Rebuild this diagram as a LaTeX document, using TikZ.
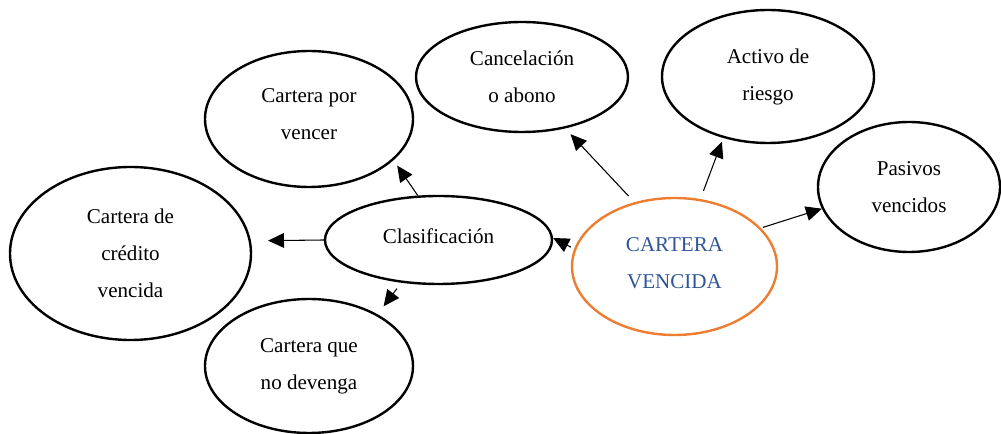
\documentclass[tikz,border=0pt]{standalone}
\usepackage{fontspec}
\setmainfont{Liberation Serif}
\usetikzlibrary{arrows.meta,shapes.geometric}
\definecolor{naranja}{HTML}{ED7D31}
\definecolor{azul}{HTML}{2F5597}

\begin{document}
\begin{tikzpicture}[x=0.75pt,y=-0.75pt,->,>={Triangle[length=12pt,width=11pt]},
  line width=0.8pt,
  elipse/.style={ellipse,draw,line width=1.8pt,inner sep=0pt,align=center,
    font=\fontsize{15.8}{27.75}\selectfont}] %,font=\sffamily]
\useasboundingbox (0,0) rectangle (1001,434);
\node[elipse,minimum width=156pt,minimum height=102pt] (porvencer) at (309,119)
  {Cartera por\\vencer\\[-20pt]};
\node[elipse,minimum width=159pt,minimum height=82.5pt] (cancel) at (522,77)
  {Cancelación\\o abono};
\node[elipse,minimum width=159pt,minimum height=99.75pt] (activo) at (768,76.5)
  {Activo de\\riesgo};
\node[elipse,minimum width=136.5pt,minimum height=97.5pt] (pasivos) at (909,187)
  {Pasivos\\vencidos};
\node[elipse,minimum width=180.75pt,minimum height=129.75pt] (credito) at (130.5,253.5)
  {Cartera de\\crédito\\vencida};
\node[elipse,minimum width=170.25pt,minimum height=66pt] (clasif) at (438.5,240)
  {Clasificación\\[-22pt]};
\node[elipse,draw=naranja,text=azul,minimum width=153.75pt,minimum height=102.75pt]
  (vencida) at (674.5,266.5) {CARTERA\\VENCIDA\\[-23pt]};
\node[elipse,minimum width=156pt,minimum height=100.5pt] (nodevenga) at (309,366)
  {Cartera que\\no devenga};
% desde cartera vencida
\draw[shorten <=6.3pt,shorten >=5.9pt] (vencida.122) -- (cancel.-50);
\draw[shorten <=6.5pt,shorten >=3pt] (vencida.69) -- (activo.-126);
\draw[shorten <=1.5pt] (vencida.24) -- (pasivos.194);
\draw[shorten <=2.7pt] (vencida.170) -- (clasif.1);
% desde clasificacion
\draw[shorten >=4.9pt] (clasif.115) -- (porvencer.-26);
\draw[shorten >=12.8pt] (clasif.west) -- (credito.6);
\draw[shorten <=5.5pt,shorten >=7.5pt] (clasif.-131) -- (nodevenga.37);
\end{tikzpicture}
\end{document}
